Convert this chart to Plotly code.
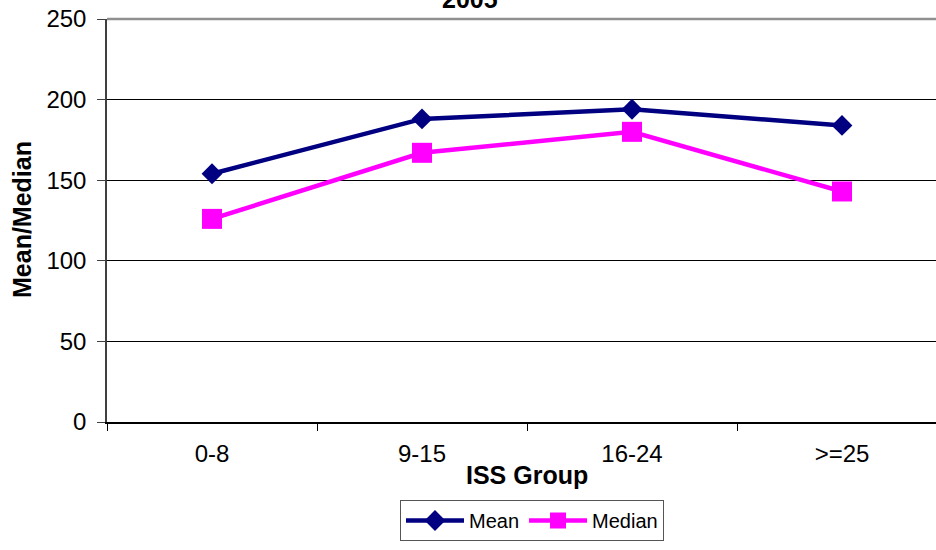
import plotly.graph_objects as go

categories = ["0-8", "9-15", "16-24", ">=25"]
mean_values = [154, 188, 194, 184]
median_values = [126, 167, 180, 143]
y_ticks = [0, 50, 100, 150, 200, 250]

W, H = 936, 550
L, R, T, B = 107, 0, 19, 128

font_family = "Liberation Sans, Arial, sans-serif"

fig = go.Figure()
fig.add_trace(go.Scatter(
    x=categories, y=mean_values, name="Mean", mode="lines+markers",
    line=dict(color="#000080", width=4.5),
    marker=dict(symbol="diamond", size=16, color="#000080"),
))
fig.add_trace(go.Scatter(
    x=categories, y=median_values, name="Median", mode="lines+markers",
    line=dict(color="#FF00FF", width=4.5),
    marker=dict(symbol="square", size=20, color="#FF00FF"),
))

plot_w = W - L - R
plot_h = H - T - B
fig.update_layout(
    width=W, height=H,
    margin=dict(l=L, r=R, t=T, b=B, pad=0),
    paper_bgcolor="white", plot_bgcolor="white",
    font=dict(family=font_family, color="black", size=20),
    showlegend=True,
    hovermode=False,
    legend=dict(
        orientation="h", x=(532 - L) / plot_w, xanchor="center",
        y=(422 - 500) / plot_h, yanchor="top",
        bordercolor="#555555", borderwidth=1, bgcolor="white",
        font=dict(size=20, family=font_family),
        itemwidth=58, tracegroupgap=0,
    ),
    xaxis=dict(
        type="category",
        range=[-0.5, -0.5 + (W - L) / 210.0],
        showgrid=False, zeroline=False,
        showline=True, linecolor="black", linewidth=1.5,
        ticks="outside", tickson="boundaries", ticklen=7, tickcolor="black",
        tickfont=dict(size=24, family=font_family),
        ticklabelstandoff=9,
    ),
    yaxis=dict(
        range=[0, 250], tickvals=y_ticks,
        showgrid=True, gridcolor="black", gridwidth=1,
        zeroline=False,
        showline=True, linecolor="#404040", linewidth=1.5,
        ticks="outside", ticklen=8, tickcolor="#404040",
        tickfont=dict(size=24, family=font_family),
        ticklabelstandoff=6,
    ),
    shapes=[dict(type="line", xref="paper", yref="paper", x0=0, x1=1, y0=1, y1=1,
                 line=dict(color="#909090", width=2.5))],
    annotations=[
        dict(text="<b>2005</b>", xref="paper", yref="paper",
             x=(470 - L) / plot_w, y=1, yanchor="middle", yshift=20,
             showarrow=False, font=dict(size=25, family=font_family)),
        dict(text="<b>ISS Group</b>", xref="paper", yref="paper",
             x=(527 - L) / plot_w, y=(422 - 475) / plot_h, yanchor="middle",
             showarrow=False, font=dict(size=25, family=font_family)),
        dict(text="<b>Mean/Median</b>", xref="paper", yref="paper",
             x=(22 - L) / plot_w, y=(422 - 220) / plot_h,
             xanchor="center", yanchor="middle", textangle=-90,
             showarrow=False, font=dict(size=25, family=font_family)),
    ],
)

fig.write_html("out.html", config={"displayModeBar": False},
               post_script="document.body.style.margin='0px';")
